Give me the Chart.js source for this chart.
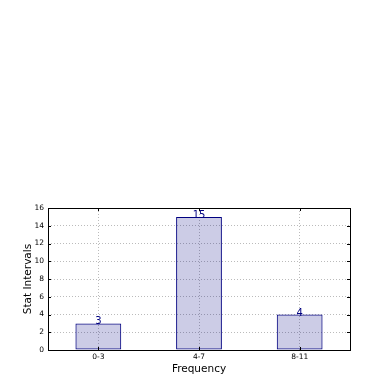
<!DOCTYPE html>
<html><head><meta charset="utf-8">
<script src="https://cdn.jsdelivr.net/npm/chart.js@4"></script>
<style>html,body{margin:0;padding:0;background:#fff}#wrap{width:390px;height:390px}</style>
</head><body><div id="wrap"><canvas id="c" width="390" height="390"></canvas></div>
<script>
const categories = ["0-3", "4-7", "8-11"];
const counts = [3, 15, 4];
const yTicks = [0, 2, 4, 6, 8, 10, 12, 14, 16];

const frame = {
  id: 'frame',
  afterDatasetsDraw(chart) {
    const {ctx, chartArea: a, scales} = chart;
    ctx.save();
    ctx.strokeStyle = '#000';
    ctx.lineWidth = 1;
    yTicks.forEach(v => {
      const y = Math.round(scales.y.getPixelForValue(v)) + 0.5;
      ctx.beginPath(); ctx.moveTo(a.left, y); ctx.lineTo(a.left + 3, y); ctx.stroke();
      ctx.beginPath(); ctx.moveTo(a.right, y); ctx.lineTo(a.right - 3, y); ctx.stroke();
    });
    categories.forEach((c, i) => {
      const x = Math.round(scales.x.getPixelForValue(i)) + 0.5;
      ctx.beginPath(); ctx.moveTo(x, a.bottom); ctx.lineTo(x, a.bottom - 3); ctx.stroke();
      ctx.beginPath(); ctx.moveTo(x, a.top); ctx.lineTo(x, a.top + 3); ctx.stroke();
    });
    ctx.strokeRect(Math.round(a.left) + 0.5, Math.round(a.top) + 0.5, Math.round(a.right - a.left), Math.round(a.bottom - a.top));
    ctx.fillStyle = '#000080';
    ctx.font = '10px "DejaVu Sans"';
    ctx.textAlign = 'center';
    ctx.textBaseline = 'alphabetic';
    const meta = chart.getDatasetMeta(0);
    meta.data.forEach((bar, i) => {
      ctx.fillText(String(counts[i]), bar.x, bar.y + 1);
    });
    ctx.restore();
  }
};

new Chart(document.getElementById('c'), {
  type: 'bar',
  data: {
    labels: categories,
    datasets: [{
      data: counts,
      backgroundColor: 'rgba(0,0,128,0.2)',
      borderColor: '#000080',
      borderWidth: 1,
      borderSkipped: false,
      categoryPercentage: 1,
      barPercentage: 0.455
    }]
  },
  options: {
    responsive: false,
    animation: false,
    devicePixelRatio: 1,
    layout: {padding: {top: 208, left: 0, right: 40, bottom: 0}},
    plugins: {legend: {display: false}, tooltip: {enabled: false}},
    scales: {
      x: {
        offset: true,
        grid: {offset: false, color: '#bbb', drawTicks: false, lineWidth: 1},
        border: {display: false, dash: [1, 2]},
        ticks: {color: '#000', font: {family: 'DejaVu Sans', size: 7.5}, padding: 3},
        title: {display: true, text: 'Frequency', color: '#000', font: {family: 'DejaVu Sans', size: 10.5}, padding: {top: 0, bottom: 14}},
        afterFit(s) { s.height = 40; }
      },
      y: {
        min: 0, max: 16,
        afterBuildTicks(s) { s.ticks = yTicks.map(v => ({value: v})); },
        grid: {color: '#bbb', drawTicks: false, lineWidth: 1},
        border: {display: false, dash: [1, 2]},
        ticks: {color: '#000', font: {family: 'DejaVu Sans', size: 7.5}, padding: 4},
        title: {display: true, text: 'Stat Intervals', color: '#000', font: {family: 'DejaVu Sans', size: 10.5}, padding: {top: 22, bottom: 0}},
        afterFit(s) { s.width = 48; }
      }
    }
  },
  plugins: [frame]
});
</script></body></html>
